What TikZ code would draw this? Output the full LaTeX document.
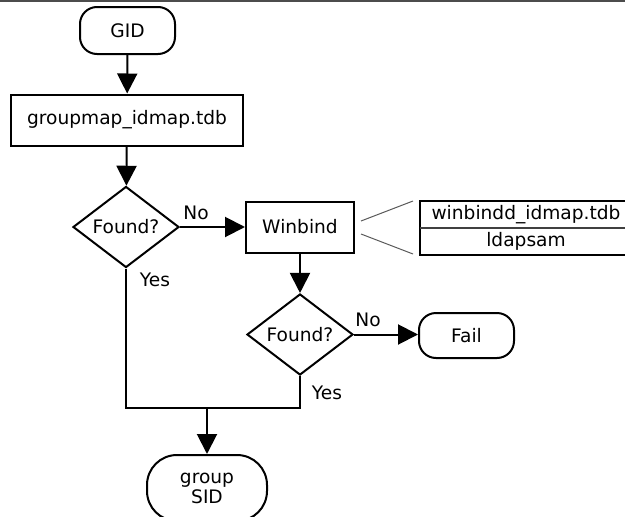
\documentclass[tikz,border=0pt]{standalone}
\usepackage{fontspec}
\setmainfont{DejaVu Sans}
\usetikzlibrary{shapes.geometric,arrows.meta}
\begin{document}
\begin{tikzpicture}[x=1pt,y=-1pt,
  every node/.style={font=\fontsize{18.6}{20}\selectfont, inner sep=0pt},
  term/.style={draw, line width=2pt, rounded corners=17pt, align=center},
  proc/.style={draw, line width=2pt},
  dec/.style={draw, line width=2pt, diamond},
  flow/.style={line width=2pt, -{Triangle[length=20pt,width=20pt]}},
  wire/.style={line width=2pt},
  thin/.style={line width=1pt, gray!70!black}]
\useasboundingbox (0,0) rectangle (625,517);
\draw[line width=2pt, gray!60!black] (0,1) -- (625,1);
\node[term, minimum width=95pt, minimum height=47pt] (gid) at (127.5,30.5) {GID};
\node[proc, minimum width=232pt, minimum height=51pt] (gm) at (127,120) {groupmap\_idmap.tdb};
\node[dec, minimum width=106pt, minimum height=80pt] (d1) at (126,227) {Found?};
\node[proc, minimum width=108pt, minimum height=51pt] (win) at (300,227) {Winbind};
\node[dec, minimum width=106pt, minimum height=79pt] (d2) at (300,334.5) {Found?};
\node[term, minimum width=95pt, minimum height=45pt] (fail) at (466.5,335.5) {Fail};
\node[term, minimum width=120pt, minimum height=66pt, rounded corners=30pt] (sid) at (207,488) {group\\SID};
\node[minimum width=212pt, minimum height=27pt] (t1) at (526,214.5) {winbindd\_idmap.tdb};
\node[minimum width=212pt, minimum height=27pt] (t2) at (526,241.5) {ldapsam};
\draw[line width=2pt] (t1.north west) rectangle (t2.south east);
\draw[line width=1.5pt, gray!50!black] (t1.south west) -- (t1.south east);
\coordinate (wa) at (361,221);
\coordinate (wb) at (361,234);
\coordinate (ta) at (413,201);
\coordinate (tb) at (413,254);
\draw[thin] (wa) -- (ta);
\draw[thin] (wb) -- (tb);
\coordinate (m) at (207,408);
\draw[flow] (gid) -- (gm);
\draw[flow] (gm) -- (d1);
\draw[flow] (d1.east) -- (d1.east -| win.west);
\draw[flow] (win) -- (d2);
\draw[flow] (d2.east) -- (d2.east -| fail.west);
\draw[wire] (d1.south) |- (m) -| (d2.south);
\draw[flow] (m) -- (sid.north);
\node (no1) at (196,213) {No};
\node (no2) at (368,320) {No};
\node (yes1) at (155,280) {Yes};
\node (yes2) at (327,393) {Yes};
\end{tikzpicture}
\end{document}
